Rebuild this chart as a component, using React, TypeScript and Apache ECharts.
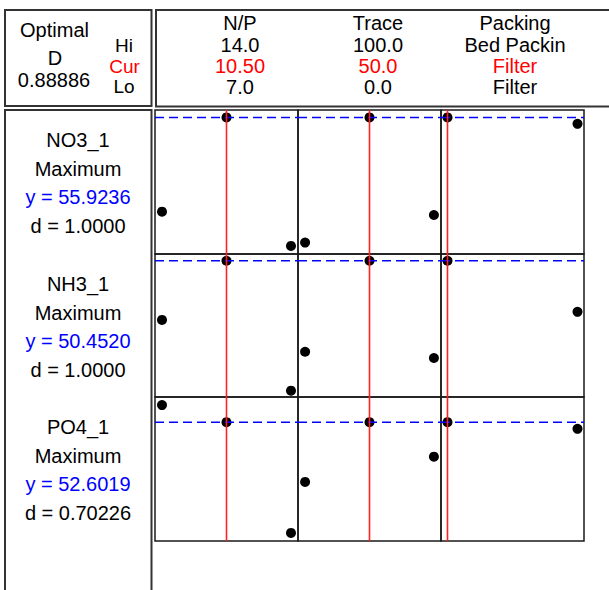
import React, { useEffect, useRef } from "react";
import * as echarts from "echarts";

// Factor header texts
const factorNames = ["N/P", "Trace", "Packing"];
const hiLabels = ["14.0", "100.0", "Bed Packin"];
const curLabels = ["10.50", "50.0", "Filter"];
const loLabels = ["7.0", "0.0", "Filter"];

// Factor settings (Packing: Filter = 0, Bed Packin = 1)
const npSettings = [7, 10.5, 14];
const traceSettings = [0, 50, 100];
const packingSettings = [0, 1];
const currentSettings = [10.5, 50, 0];

// Responses
const responseNames = ["NO3_1", "NH3_1", "PO4_1"];
const goals = ["Maximum", "Maximum", "Maximum"];
const predicted = [55.9236, 50.452, 52.6019];
const predictedLabels = ["y = 55.9236", "y = 50.4520", "y = 52.6019"];
const dLabels = ["d = 1.0000", "d = 1.0000", "d = 0.70226"];
const optimalD = "0.88886";

// Response values along each factor (low, current, high) — estimated
const no3VsNP = [24.5, 55.9236, 13.1];
const no3VsTrace = [14.2, 55.9236, 23.4];
const no3VsPacking = [55.9236, 53.8];
const nh3VsNP = [30.7, 50.452, 7.1];
const nh3VsTrace = [20.1, 50.452, 18.0];
const nh3VsPacking = [50.452, 33.4];
const po4VsNP = [58.3, 52.6019, 15.7];
const po4VsTrace = [32.7, 52.6019, 41.1];
const po4VsPacking = [52.6019, 50.4];

// Axis ranges (no ticks shown in the reference)
const xMins = [6.62, -5.5, -0.05];
const xMaxs = [14.38, 105.5, 1.05];
const yMins = [10.4, 5.0, 13.0];
const yMaxs = [58.4, 52.7, 61.0];

const FONT = "'Liberation Sans', Arial, sans-serif";

export default function App() {
  const ref = useRef<HTMLDivElement>(null);

  useEffect(() => {
    if (!ref.current) return;
    const chart = echarts.init(ref.current, null, { renderer: "svg" });

    const colLefts = [155, 298, 441];
    const colWidths = [143, 143, 143];
    const rowTops = [110, 254, 397];
    const rowHeights = [144, 143, 144];

    const settings = [npSettings, traceSettings, packingSettings];
    const values = [
      [no3VsNP, no3VsTrace, no3VsPacking],
      [nh3VsNP, nh3VsTrace, nh3VsPacking],
      [po4VsNP, po4VsTrace, po4VsPacking],
    ];

    const grids: any[] = [];
    const xAxes: any[] = [];
    const yAxes: any[] = [];
    const series: any[] = [];
    let idx = 0;
    for (let r = 0; r < 3; r++) {
      for (let c = 0; c < 3; c++) {
        grids.push({
          left: colLefts[c],
          top: rowTops[r],
          width: colWidths[c],
          height: rowHeights[r],
          show: true,
          borderColor: "#1a1a1a",
          borderWidth: 1.5,
          backgroundColor: "transparent",
          containLabel: false,
        });
        xAxes.push({
          type: "value",
          gridIndex: idx,
          min: xMins[c],
          max: xMaxs[c],
          show: false,
        });
        yAxes.push({
          type: "value",
          gridIndex: idx,
          min: yMins[r],
          max: yMaxs[r],
          show: false,
        });
        const pts = settings[c].map((s, i) => [s, values[r][c][i]]);
        series.push({
          type: "scatter",
          xAxisIndex: idx,
          yAxisIndex: idx,
          data: pts,
          symbol: "circle",
          symbolSize: 10,
          itemStyle: { color: "#000", opacity: 1 },
          z: 2,
          silent: true,
        });
        series.push({
          type: "line",
          xAxisIndex: idx,
          yAxisIndex: idx,
          data: [
            [xMins[c], predicted[r]],
            [xMaxs[c], predicted[r]],
          ],
          showSymbol: false,
          symbol: "none",
          lineStyle: { color: "#0000ff", width: 1.6, type: [9, 5] },
          z: 3,
          silent: true,
        });
        series.push({
          type: "line",
          xAxisIndex: idx,
          yAxisIndex: idx,
          data: [
            [currentSettings[c], yMins[r]],
            [currentSettings[c], yMaxs[r]],
          ],
          showSymbol: false,
          symbol: "none",
          lineStyle: { color: "#ff2020", width: 1.6 },
          z: 4,
          silent: true,
        });
        idx++;
      }
    }

    const txt = (x: number, y: number, text: string, fill = "#000", size = 20) => ({
      type: "text",
      x,
      y,
      silent: true,
      style: {
        text,
        fill,
        font: `${size}px ${FONT}`,
        align: "center",
        verticalAlign: "middle",
      },
    });

    const graphics: any[] = [
      {
        type: "rect",
        shape: { x: 5, y: 10, width: 146.5, height: 96 },
        style: { fill: "none", stroke: "#333", lineWidth: 2 },
        silent: true,
      },
      {
        type: "rect",
        shape: { x: 156, y: 10, width: 470, height: 96.5 },
        style: { fill: "none", stroke: "#333", lineWidth: 2 },
        silent: true,
      },
      {
        type: "rect",
        shape: { x: 5, y: 110, width: 146.5, height: 520 },
        style: { fill: "none", stroke: "#333", lineWidth: 2 },
        silent: true,
      },
      txt(54.5, 30, "Optimal"),
      txt(55, 57.5, "D"),
      txt(54, 79.5, optimalD),
      txt(124, 45, "Hi", "#000", 19),
      txt(124.5, 66, "Cur", "#ff0000", 19),
      txt(124, 86.5, "Lo", "#000", 19),
    ];

    const headerX = [240, 378, 515];
    for (let c = 0; c < 3; c++) {
      graphics.push(txt(headerX[c], 22.5, factorNames[c]));
      graphics.push(txt(headerX[c], 45, hiLabels[c]));
      graphics.push(txt(headerX[c], 65.5, curLabels[c], "#ff0000"));
      graphics.push(txt(headerX[c], 86.5, loLabels[c]));
    }

    const leftX = 78;
    for (let r = 0; r < 3; r++) {
      const base = rowTops[r] + 30;
      graphics.push(txt(leftX, base, responseNames[r]));
      graphics.push(txt(leftX, base + 28.7, goals[r]));
      graphics.push(txt(leftX, base + 57.3, predictedLabels[r], "#0000ff"));
      graphics.push(txt(leftX, base + 85.7, dLabels[r]));
    }

    chart.setOption({
      animation: false,
      backgroundColor: "#fff",
      grid: grids,
      xAxis: xAxes,
      yAxis: yAxes,
      series,
      graphic: graphics,
    });

    return () => chart.dispose();
  }, []);

  return (
    <div
      ref={ref}
      style={{ position: "fixed", left: 0, top: 0, width: 609, height: 590, background: "#fff" }}
    />
  );
}
